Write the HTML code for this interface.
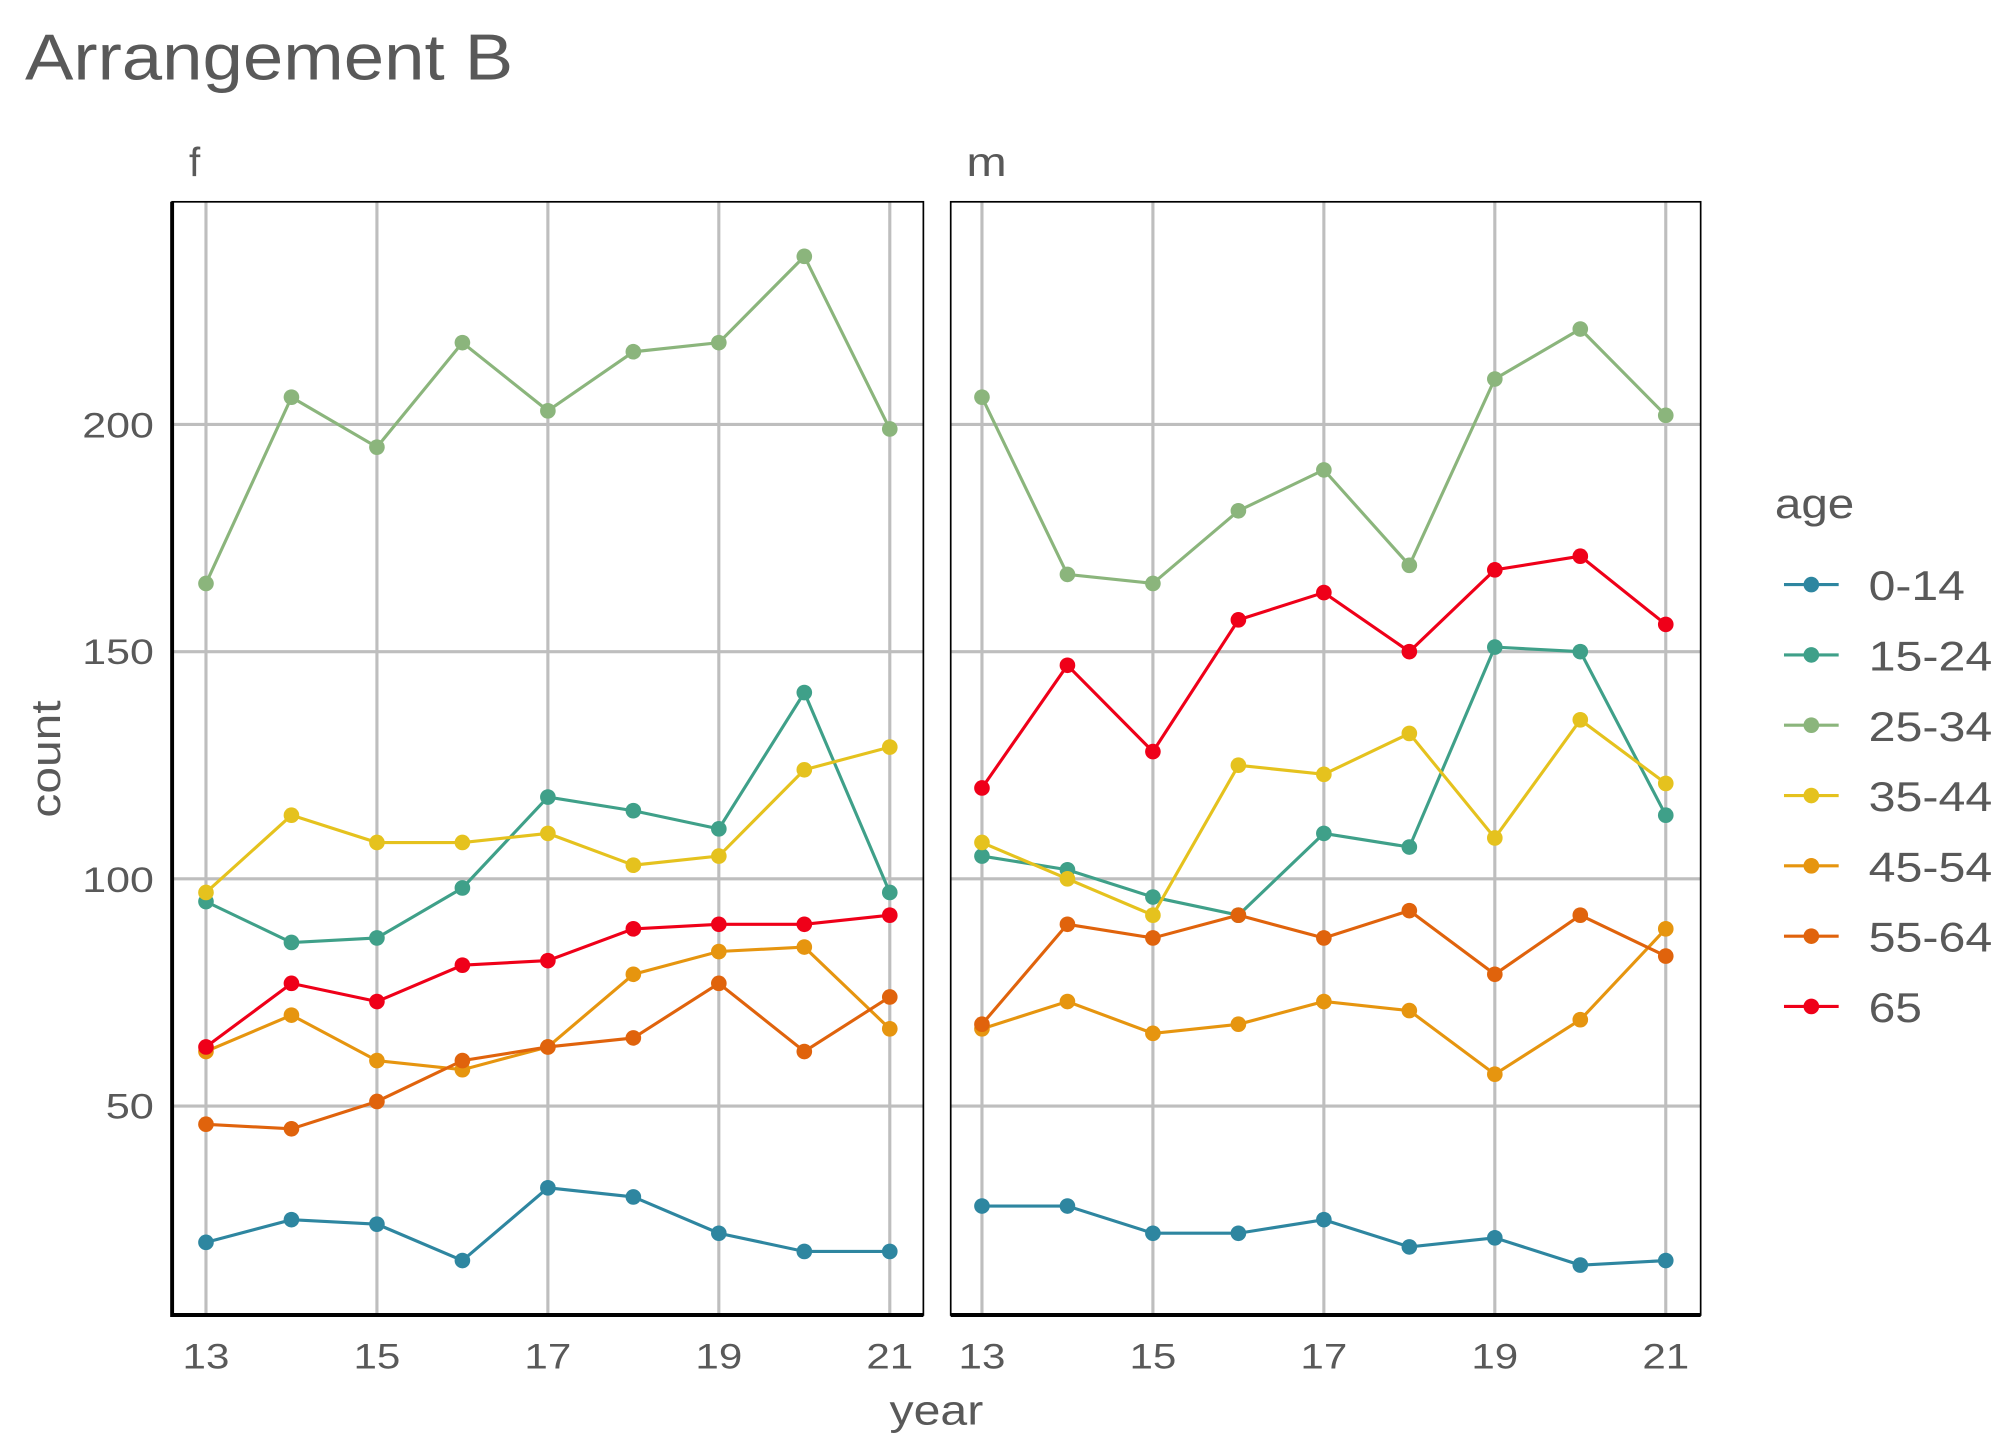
<!DOCTYPE html>
<html><head><meta charset="utf-8"><style>
html,body{margin:0;padding:0;background:#fff}
svg{display:block}
text{font-family:"Liberation Sans",sans-serif;fill:#595959}
</style></head><body>
<svg id="s" width="2016" height="1440" viewBox="0 0 1548 1106" xmlns="http://www.w3.org/2000/svg">
<rect width="1548" height="1106" fill="#fff"/>
<text x="19" y="61" font-size="50" textLength="375" lengthAdjust="spacingAndGlyphs">Arrangement B</text>
<text x="145" y="135" font-size="31">f</text>
<text x="742" y="135" font-size="31" textLength="31" lengthAdjust="spacingAndGlyphs">m</text>
<g id="grid"></g>
<g id="series"></g>
<g font-size="27" text-anchor="end">
<text x="118" y="336" textLength="55" lengthAdjust="spacingAndGlyphs">200</text><text x="118" y="510" textLength="55" lengthAdjust="spacingAndGlyphs">150</text><text x="118" y="685" textLength="55" lengthAdjust="spacingAndGlyphs">100</text><text x="118" y="859" textLength="37" lengthAdjust="spacingAndGlyphs">50</text>
</g>
<g font-size="27" text-anchor="middle" id="xt"></g>
<text x="719" y="1094" font-size="32" text-anchor="middle" textLength="72" lengthAdjust="spacingAndGlyphs">year</text>
<text transform="translate(46,583) rotate(-90)" font-size="32" text-anchor="middle" textLength="90" lengthAdjust="spacingAndGlyphs">count</text>
<text x="1363" y="398" font-size="32" textLength="61" lengthAdjust="spacingAndGlyphs">age</text>
<g id="leg"></g>
<g font-size="32">
<text x="1435" y="461" textLength="74" lengthAdjust="spacingAndGlyphs">0-14</text><text x="1435" y="515" textLength="95" lengthAdjust="spacingAndGlyphs">15-24</text><text x="1435" y="569" textLength="95" lengthAdjust="spacingAndGlyphs">25-34</text><text x="1435" y="623" textLength="95" lengthAdjust="spacingAndGlyphs">35-44</text><text x="1435" y="677" textLength="95" lengthAdjust="spacingAndGlyphs">45-54</text><text x="1435" y="731" textLength="95" lengthAdjust="spacingAndGlyphs">55-64</text><text x="1435" y="785" textLength="41" lengthAdjust="spacingAndGlyphs">65</text>
</g>
</svg>
<script>
(function(){
var NS="http://www.w3.org/2000/svg";
function el(p,t,a){var e=document.createElementNS(NS,t);for(var k in a)e.setAttribute(k,a[k]);p.appendChild(e);return e;}
var cols=["#2e86a0","#3fa089","#8bb57c","#e5c21e","#e6950f","#e0630c","#ef0019"];
var data={f:[[20,25,24,16,32,30,22,18,18],[95,86,87,98,118,115,111,141,97],[165,206,195,218,203,216,218,237,199],[97,114,108,108,110,103,105,124,129],[62,70,60,58,63,79,84,85,67],[46,45,51,60,63,65,77,62,74],[63,77,73,81,82,89,90,90,92]],
m:[[28,28,22,22,25,19,21,15,16],[105,102,96,92,110,107,151,150,114],[206,167,165,181,190,169,210,221,202],[108,100,92,125,123,132,109,135,121],[67,73,66,68,73,71,57,69,89],[68,90,87,92,87,93,79,92,83],[120,147,128,157,163,150,168,171,156]]};
var panels=[{k:"f",l:132,r:709,x0:158},{k:"m",l:730,r:1306,x0:754}];
var pTop=155,pBot=1010,step=65.65;
function Y(v){return 326+(200-v)*3.49;}
var g=document.getElementById("grid"),s=document.getElementById("series"),xt=document.getElementById("xt");
panels.forEach(function(p,pi){
 [200,150,100,50].forEach(function(v){el(g,"line",{x1:p.l,x2:p.r,y1:Y(v),y2:Y(v),stroke:"#bebebe","stroke-width":2.4});});
 for(var i=0;i<5;i++){var x=p.x0+i*2*step;el(g,"line",{x1:x,x2:x,y1:pTop,y2:pBot,stroke:"#bebebe","stroke-width":2.4});
  var t=el(xt,"text",{x:x,y:1051,textLength:36,lengthAdjust:"spacingAndGlyphs"});t.textContent=String(13+2*i);}
 el(g,"rect",{x:p.l,y:pTop,width:p.r-p.l,height:pBot-pTop,fill:"none",stroke:"#000","stroke-width":1.3});
 el(g,"line",{x1:p.l,x2:p.r,y1:pBot,y2:pBot,stroke:"#000","stroke-width":3});
 if(pi==0)el(g,"line",{x1:p.l,x2:p.l,y1:pTop,y2:pBot+1.5,stroke:"#000","stroke-width":3});
 data[p.k].forEach(function(arr,ci){
  var pts=arr.map(function(v,i){return (p.x0+i*step).toFixed(1)+","+Y(v).toFixed(1);});
  el(s,"polyline",{points:pts.join(" "),fill:"none",stroke:cols[ci],"stroke-width":2.4});
  arr.forEach(function(v,i){el(s,"circle",{cx:p.x0+i*step,cy:Y(v),r:6,fill:cols[ci]});});
 });
});
var lg=document.getElementById("leg");
cols.forEach(function(c,i){var y=449+i*54;el(lg,"line",{x1:1370,x2:1412,y1:y,y2:y,stroke:c,"stroke-width":2.4});el(lg,"circle",{cx:1391,cy:y,r:6,fill:c});});
})();
</script>
</body></html>
